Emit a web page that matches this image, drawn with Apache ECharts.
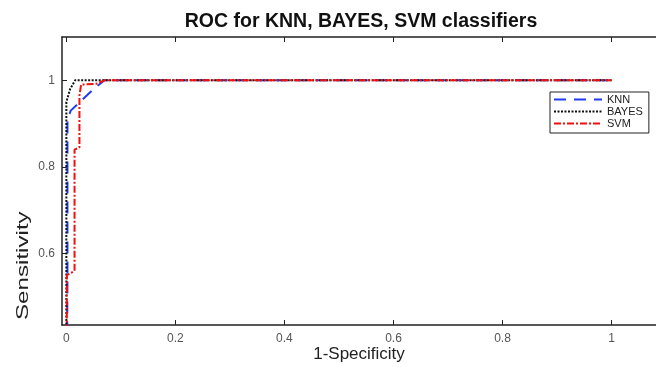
<!DOCTYPE html>
<html>
<head>
<meta charset="utf-8">
<script src="https://cdn.jsdelivr.net/npm/echarts@6/dist/echarts.min.js"></script>
<style>
  html, body { margin: 0; padding: 0; background: #fff; }
  #chart { width: 656px; height: 367px; }
</style>
</head>
<body>
<div id="chart"></div>
<script>
// ROC curve points [1-specificity, sensitivity]
const knnPoints = [[0, 0], [0.002, 0.55], [0.002, 0.91], [0.008, 0.93], [0.05, 0.98], [0.07, 1], [1, 1]];
const bayesPoints = [[0, 0], [0, 0.55], [0, 0.95], [0.007, 0.98], [0.016, 1], [1, 1]];
const svmPoints = [[0, 0], [0.001, 0.55], [0.015, 0.56], [0.015, 0.84], [0.024, 0.845], [0.024, 0.965],
  [0.027, 0.99], [0.055, 0.992], [0.07, 1], [1, 1]];
const xTicks = [0, 0.2, 0.4, 0.6, 0.8, 1];
const yTicks = [0.6, 0.8, 1];

const chart = echarts.init(document.getElementById('chart'));
const font = 'Liberation Sans, Arial, sans-serif';

const mkSeries = (name, data, color, type) => ({
  name,
  type: 'line',
  data,
  symbol: 'none',
  clip: true,
  lineStyle: { color, width: 2, type },
  itemStyle: { color },
});

chart.setOption({
  animation: false,
  backgroundColor: '#fff',
  title: {
    text: 'ROC for KNN, BAYES, SVM classifiers',
    left: 356,
    top: 7,
    textAlign: 'center',
    textStyle: { fontFamily: font, fontSize: 19.5, fontWeight: 'bold', color: '#111' },
  },
  legend: {
    orient: 'vertical',
    left: 550,
    top: 92,
    padding: [2, 6, 4, 3],
    itemWidth: 48,
    itemHeight: 11,
    itemGap: 1,
    borderColor: '#222',
    borderWidth: 1,
    itemStyle: { opacity: 0 },
    textStyle: { fontFamily: font, fontSize: 11, color: '#222' },
    data: ['KNN', 'BAYES', 'SVM'],
  },
  grid: { left: 62, top: 37, right: 0, height: 288, outerBoundsMode: 'none' },
  xAxis: [{
    type: 'value',
    min: -0.008,
    max: 1.0815,
    name: '1-Specificity',
    nameLocation: 'middle',
    nameGap: 21,
    nameMoveOverlap: false,
    nameTextStyle: { fontFamily: font, fontSize: 17, color: '#222' },
    axisLine: { onZero: false, lineStyle: { color: '#222', width: 1.5 } },
    axisTick: { inside: true, length: 5, customValues: xTicks, lineStyle: { color: '#222' } },
    axisLabel: { customValues: xTicks, fontFamily: font, fontSize: 12, color: '#555', margin: 8 },
    splitLine: { show: false },
  }, {
    type: 'value',
    position: 'top',
    min: -0.008,
    max: 1.0815,
    axisLine: { onZero: false, lineStyle: { color: '#222', width: 1.5 } },
    axisTick: { inside: true, length: 5, customValues: xTicks, lineStyle: { color: '#222' } },
    axisLabel: { show: false },
    splitLine: { show: false },
  }],
  yAxis: {
    type: 'value',
    min: 0.435,
    max: 1.1,
    axisLine: { onZero: false, lineStyle: { color: '#222', width: 1.5 } },
    axisTick: { inside: true, length: 5, customValues: yTicks, lineStyle: { color: '#222' } },
    axisLabel: { customValues: yTicks, fontFamily: font, fontSize: 12, color: '#555', margin: 7 },
    splitLine: { show: false },
  },
  graphic: [{
    type: 'text',
    x: 15,
    y: 320,
    rotation: Math.PI / 2,
    scaleX: 1.42,
    style: { text: 'Sensitivity', font: '17px ' + font, fill: '#222', verticalAlign: 'top' },
  }],
  series: [
    mkSeries('KNN', knnPoints, '#1f3cf0', [12, 8]),
    mkSeries('BAYES', bayesPoints, '#111', [2, 1.5]),
    mkSeries('SVM', svmPoints, '#f01010', [7, 2, 2, 2]),
  ],
});
</script>
</body>
</html>
